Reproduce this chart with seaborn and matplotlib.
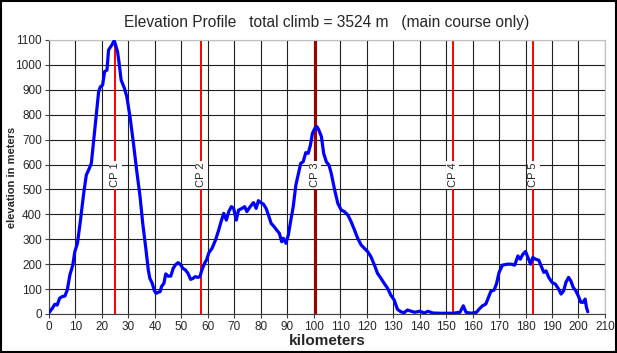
import numpy as np
import pandas as pd
import matplotlib
matplotlib.use('Agg')
import matplotlib.pyplot as plt
import seaborn as sns

# elevation profile (km, m)
km = [0, 1.25, 2.2, 3.1, 4, 5, 6, 6.9, 7.9, 9, 9.75, 10.75, 11.9, 13.1, 14.1, 15.25, 16,
      16.9, 17.9, 18.75, 19.4, 20.25, 21, 21.9, 22.5, 23.75, 24.6, 25, 25.9, 26.5, 27.25,
      28.5, 29.4, 30.6, 31.9, 33.1, 34.4, 35.4, 36.5, 37.5, 38.1, 39, 39.75, 40.4, 41.25,
      42, 42.5, 43.4, 44.1, 45, 46, 46.9, 47.75, 48.75, 49.75, 50.6, 51.5, 52.5, 53.5,
      54.4, 55.25, 56.25, 57, 57.75, 58.75, 59.5, 60.4, 61.6, 62.9, 64.1, 65, 66, 67,
      67.9, 68.9, 69.75, 70.75, 71.6, 72.9, 73.9, 74.75, 76, 77.25, 78.25, 79.1, 80, 81,
      82, 82.9, 83.9, 85, 86, 87, 87.9, 88.5, 89.5, 90.4, 91.25, 92.25, 93.25, 94.25,
      95.1, 96, 97, 97.9, 98.75, 99.5, 100.4, 101.25, 101.9, 102.9, 103.75, 104.75,
      105.75, 106.6, 107.9, 109.1, 110.4, 111.6, 112.9, 114.1, 115.4, 116.6, 117.9,
      119.1, 120.4, 121.6, 122.9, 124.1, 125.4, 126.6, 127.9, 129.1, 130.4, 131.6,
      132.9, 134.1, 135.4, 136.25, 138.1, 140, 141.9, 143.1, 145, 147.5, 150, 152.5,
      155.25, 156.5, 157.5, 159.4, 161.5, 162.5, 163.75, 165, 166, 166.9, 168.1, 169,
      170, 171.25, 173.1, 174.6, 175.9, 177.1, 178, 179, 180, 180.9, 181.9, 182.75,
      183.75, 185, 185.9, 186.9, 187.75, 188.75, 190, 191.25, 192.5, 193.4, 194.4,
      195.25, 196.25, 197.1, 198, 199, 199.9, 200.9, 201.75, 202.5, 203, 203.5]
elev = [5, 23, 39, 36, 63, 70, 72, 96, 157, 197, 250, 284, 377, 484, 558, 585, 605,
        698, 799, 892, 912, 919, 973, 979, 1060, 1080, 1097, 1086, 1053, 1006, 939,
        906, 872, 792, 685, 578, 471, 364, 270, 177, 143, 123, 96, 83, 87,
        90, 110, 123, 161, 152, 152, 183, 197, 206, 197, 183, 177, 163, 139,
        143, 150, 147, 150, 177, 203, 217, 246, 264, 297, 337, 371, 404, 377,
        411, 431, 424, 377, 417, 424, 431, 411, 431, 447, 424, 455, 447, 441,
        424, 397, 364, 351, 337, 324, 290, 304, 284, 317, 371, 431, 518, 565,
        605, 611, 648, 645, 678, 725, 745, 752, 739, 712, 645, 611,
        598, 565, 498, 444, 417, 411, 397, 371, 337, 304, 277,
        264, 250, 230, 197, 163, 143, 123, 103, 76, 56, 19,
        9, 5, 16, 13, 7, 11, 4, 11, 4, 3, 3, 3,
        7, 33, 7, 3, 7, 20, 33, 40, 67, 91, 96, 120,
        167, 196, 200, 200, 196, 233, 220, 240, 251, 227, 200, 227,
        220, 216, 193, 167, 173, 147, 127, 120, 100, 80, 93,
        127, 147, 133, 107, 93, 73, 47, 47, 60, 27, 9]

cp_km = [25, 57.5, 100.5, 152.5, 183]
cp_labels = ['CP 1', 'CP 2', 'CP 3', 'CP 4', 'CP 5']
cp_colors = ['#FF0000', '#FF0000', '#A00000', '#FF0000', '#FF0000']
cp_widths = [1.4, 1.4, 2.2, 1.4, 1.4]

df = pd.DataFrame({'km': km, 'elev': elev})

sns.set_style('white')
plt.rcParams['font.family'] = ['Liberation Sans', 'DejaVu Sans']

fig = plt.figure(figsize=(6.17, 3.53), dpi=100)
ax = fig.add_axes([0.0794, 0.1105, 0.9011, 0.7762])

ax.set_xlim(0, 210)
ax.set_ylim(0, 1100)
ax.set_xticks(np.arange(0, 211, 10))
ax.set_yticks(np.arange(0, 1101, 100))
ax.grid(True, color='#202020', linewidth=0.8)
ax.set_axisbelow(True)

for x, lab, c, w in zip(cp_km, cp_labels, cp_colors, cp_widths):
    ax.axvline(x, color=c, linewidth=w, zorder=2)
    ax.text(x, 558, lab, rotation=90, ha='center', va='center', fontsize=8,
            bbox=dict(facecolor='white', edgecolor='none', pad=1.0), zorder=3)

sns.lineplot(data=df, x='km', y='elev', color='#0000FF', linewidth=2.3, ax=ax, zorder=4)

for side in ['top', 'right']:
    ax.spines[side].set_color('#C0C0C0')
for side in ['left', 'bottom']:
    ax.spines[side].set_color('#404040')
ax.tick_params(axis='both', labelsize=8.5, length=3, color='#404040', direction='out',
               left=True, bottom=True, pad=2)
ax.set_xlabel('kilometers', fontsize=11, fontweight='bold', labelpad=1)
ax.set_ylabel('elevation in meters', fontsize=8, fontweight='bold')
ax.yaxis.set_label_coords(-0.058, 0.5)
ax.set_title('Elevation Profile   total climb = 3524 m   (main course only)',
             fontsize=11.2, pad=9)

fig.patches.append(plt.Rectangle((0.002, 0.003), 0.996, 0.994, transform=fig.transFigure,
                                 fill=False, edgecolor='black', linewidth=1.5))

fig.savefig('out.png', dpi=100)
